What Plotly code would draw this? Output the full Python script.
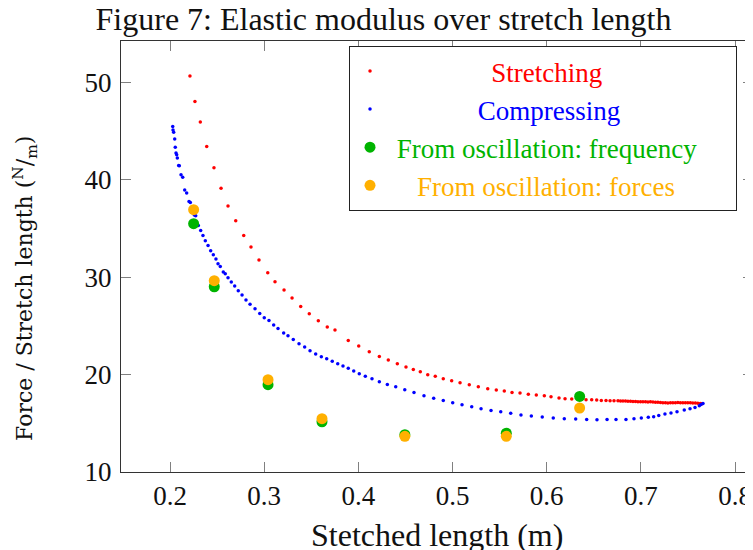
import plotly.graph_objects as go

# Stretching series (red)
stretch_x = [0.2212, 0.2265, 0.2322, 0.2390, 0.2467, 0.2542, 0.2616, 0.2698, 0.2783, 0.2860,
             0.2945, 0.3038, 0.3115, 0.3211, 0.3296, 0.3388, 0.3479, 0.3575, 0.3670, 0.3752,
             0.3893, 0.4004, 0.4116, 0.4223, 0.4318, 0.4414, 0.4506, 0.4584, 0.4658, 0.4737,
             0.4817, 0.4902, 0.4991, 0.5080, 0.5178, 0.5274, 0.5374, 0.5465, 0.5550, 0.5632,
             0.5717, 0.5805, 0.5890, 0.5975, 0.6046, 0.6131, 0.6195, 0.6266, 0.6347, 0.6418,
             0.6478, 0.6531, 0.6580, 0.6630, 0.6673, 0.6715, 0.6757, 0.6784, 0.6810, 0.6837,
             0.6863, 0.6890, 0.6916, 0.6943, 0.6969, 0.6996, 0.7022, 0.7049, 0.7075, 0.7102,
             0.7128, 0.7155, 0.7181, 0.7208, 0.7234, 0.7261, 0.7287, 0.7314, 0.7340, 0.7367,
             0.7393, 0.7420, 0.7446, 0.7473, 0.7499, 0.7526, 0.7552, 0.7579, 0.7605, 0.7632,
             0.7648]
stretch_y = [50.66, 48.05, 45.93, 43.43, 41.24, 39.12, 37.31, 35.80, 34.29, 33.10,
             31.77, 30.46, 29.54, 28.69, 27.86, 27.00, 26.25, 25.53, 24.89, 24.58,
             23.51, 22.94, 22.35, 21.87, 21.50, 21.12, 20.78, 20.53, 20.30, 19.99,
             19.82, 19.58, 19.37, 19.17, 18.96, 18.76, 18.55, 18.42, 18.32, 18.17,
             18.11, 17.97, 17.91, 17.83, 17.73, 17.60, 17.53, 17.49, 17.45, 17.42,
             17.42, 17.39, 17.35, 17.35, 17.32, 17.32, 17.31, 17.30, 17.29, 17.28,
             17.27, 17.26, 17.25, 17.23, 17.22, 17.22, 17.21, 17.20, 17.19, 17.20,
             17.18, 17.17, 17.16, 17.14, 17.12, 17.10, 17.08, 17.10, 17.12, 17.11,
             17.13, 17.12, 17.11, 17.12, 17.10, 17.11, 17.09, 17.08, 17.06, 17.03,
             17.01]

# Compressing series (blue)
compress_x = [0.2029, 0.2032, 0.2039, 0.2050, 0.2056, 0.2064, 0.2071, 0.2078, 0.2092, 0.2099,
              0.2117, 0.2135, 0.2156, 0.2177, 0.2202, 0.2216, 0.2241, 0.2258, 0.2273, 0.2301,
              0.2326, 0.2350, 0.2375, 0.2404, 0.2432, 0.2460, 0.2488, 0.2510, 0.2534, 0.2566,
              0.2587, 0.2616, 0.2651, 0.2687, 0.2725, 0.2765, 0.2807, 0.2850, 0.2903, 0.2953,
              0.3001, 0.3051, 0.3101, 0.3147, 0.3207, 0.3253, 0.3309, 0.3370, 0.3430, 0.3487,
              0.3547, 0.3607, 0.3664, 0.3723, 0.3781, 0.3837, 0.3893, 0.3951, 0.4010, 0.4074,
              0.4145, 0.4223, 0.4308, 0.4397, 0.4493, 0.4591, 0.4697, 0.4800, 0.4902, 0.5002,
              0.5101, 0.5204, 0.5303, 0.5409, 0.5512, 0.5618, 0.5727, 0.5837, 0.5953, 0.6070,
              0.6187, 0.6308, 0.6425, 0.6534, 0.6641, 0.6736, 0.6842, 0.6927, 0.7005, 0.7079,
              0.7136, 0.7190, 0.7256, 0.7320, 0.7384, 0.7461, 0.7522, 0.7575, 0.7621, 0.7639,
              0.7660]
compress_y = [45.48, 45.11, 44.87, 44.19, 43.33, 42.75, 42.58, 42.24, 41.48, 41.45,
              40.52, 40.25, 38.95, 38.64, 37.78, 37.68, 37.10, 36.39, 36.31, 35.32,
              34.80, 34.29, 33.75, 33.26, 32.72, 32.31, 31.87, 31.39, 31.11, 30.53,
              30.36, 29.95, 29.51, 29.10, 28.61, 28.17, 27.66, 27.21, 26.77, 26.28,
              25.84, 25.56, 25.09, 24.74, 24.27, 23.99, 23.61, 23.17, 22.83, 22.45,
              22.12, 21.84, 21.63, 21.36, 21.12, 20.88, 20.64, 20.37, 20.09, 19.82,
              19.58, 19.27, 18.99, 18.76, 18.45, 18.17, 17.83, 17.56, 17.35, 17.11,
              16.91, 16.70, 16.50, 16.32, 16.19, 16.02, 15.85, 15.75, 15.65, 15.54,
              15.47, 15.44, 15.40, 15.37, 15.40, 15.40, 15.40, 15.47, 15.54, 15.61,
              15.68, 15.81, 15.95, 16.06, 16.19, 16.37, 16.50, 16.63, 16.81, 16.94,
              17.04]

# Oscillation measurements
osc_x = [0.2251, 0.2470, 0.3041, 0.3614, 0.4494, 0.5571, 0.6350]
freq_y = [35.49, 29.02, 18.96, 15.16, 13.83, 13.98, 17.76]
forces_y = [36.93, 29.64, 19.48, 15.47, 13.66, 13.66, 16.57]

x_ticks = [0.2, 0.3, 0.4, 0.5, 0.6, 0.7, 0.8]
x_tick_labels = ["0.2", "0.3", "0.4", "0.5", "0.6", "0.7", "0.8"]
y_ticks = [10, 20, 30, 40, 50]
y_tick_labels = ["10", "20", "30", "40", "50"]

FONT = "Liberation Serif, Times New Roman, serif"
RED = "#ff0000"
BLUE = "#0000ff"
GREEN = "#00b400"
ORANGE = "#ffb000"
NB = "\u00a0"


def lbl(text, color, pad=0, tail=0):
    return NB * pad + f"<span style='color:{color}'>{text}</span>" + NB * tail


fig = go.Figure()
fig.add_trace(go.Scatter(x=stretch_x, y=stretch_y, mode="markers",
                         marker=dict(color=RED, size=3.5),
                         name=lbl("Stretching", RED, 15)))
fig.add_trace(go.Scatter(x=compress_x, y=compress_y, mode="markers",
                         marker=dict(color=BLUE, size=3.5),
                         name=lbl("Compressing", BLUE, 13)))
fig.add_trace(go.Scatter(x=osc_x, y=freq_y, mode="markers",
                         marker=dict(color=GREEN, size=11),
                         name=lbl("From oscillation: frequency", GREEN, 1, 5)))
fig.add_trace(go.Scatter(x=osc_x, y=forces_y, mode="markers",
                         marker=dict(color=ORANGE, size=11),
                         name=lbl("From oscillation: forces", ORANGE, 4)))

axis_common = dict(showgrid=False, zeroline=False, ticks="inside", ticklen=10,
                   tickwidth=1, tickcolor="#808080", showline=True, linecolor="#333333",
                   linewidth=1.3, automargin=False,
                   tickfont=dict(family=FONT, size=27, color="#111"))

fig.update_layout(
    width=745, height=542,
    margin=dict(l=113, r=0, t=33, b=78, autoexpand=False),
    paper_bgcolor="white", plot_bgcolor="white",
    font=dict(family=FONT, color="#111"),
    title=dict(text="Figure 7: Elastic modulus over stretch length",
               x=0.504, xanchor="center", xref="container",
               y=0.98, yanchor="middle", yref="container",
               font=dict(family=FONT, size=32, color="#111")),
    xaxis=dict(range=[0.14797, 0.81909], tickvals=x_ticks, ticktext=x_tick_labels,
               mirror="ticks", ticklabelstandoff=-1, **axis_common),
    yaxis=dict(range=[10, 54.25], tickvals=y_ticks, ticktext=y_tick_labels,
               mirror=False, ticklabelstandoff=3, **axis_common),
    yaxis2=dict(range=[10, 54.25], tickvals=y_ticks, overlaying="y", side="right",
                showticklabels=False, showgrid=False, zeroline=False, showline=False,
                ticks="inside", ticklen=10, tickwidth=1, tickcolor="#808080", automargin=False),
    legend=dict(x=0.9747, y=0.9885, xanchor="right", yanchor="top",
                bgcolor="white", bordercolor="#222", borderwidth=1,
                font=dict(family=FONT, size=27), itemsizing="trace",
                tracegroupgap=0),
    showlegend=True,
    annotations=[
        dict(text="Stetched length (m)", xref="paper", yref="paper", x=0.5, y=-0.1454,
             xanchor="center", yanchor="middle", showarrow=False,
             font=dict(family=FONT, size=32, color="#111")),
        dict(text="Force / Stretch length (<sup>N</sup>/<sub>m</sub>)", xref="paper", yref="paper",
             x=-0.152, y=0.427, xanchor="center", yanchor="middle", textangle=-90,
             showarrow=False, font=dict(family="DejaVu Serif", size=22, color="#111")),
    ],
)

# invisible trace to anchor the right-side tick axis
fig.add_trace(go.Scatter(x=[None], y=[None], yaxis="y2", showlegend=False, hoverinfo="skip"))

fig.write_html("out.html")
